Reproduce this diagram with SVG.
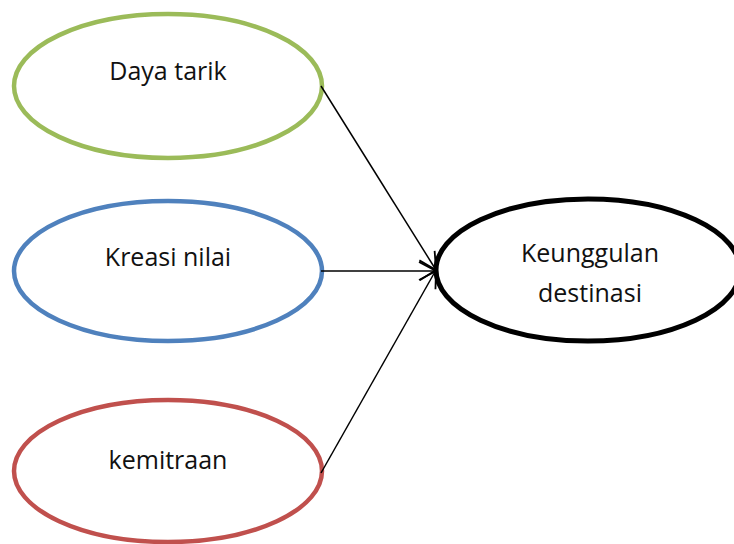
<svg xmlns="http://www.w3.org/2000/svg" width="734" height="544" viewBox="0 0 734 544">
<style>
.node ellipse{fill:#fff}
.lbl{font-family:"Open Sans","Liberation Sans",sans-serif;font-size:25px;fill:#111;text-anchor:middle}
.conn line{stroke:#000;stroke-width:1.5;fill:none}
</style>
<defs>
<marker id="arr" markerUnits="userSpaceOnUse" viewBox="-20 -12 22 24" refX="0" refY="0" markerWidth="22" markerHeight="24" orient="auto">
<path d="M-17,-9 L0,0 L-17,9" fill="none" stroke="#000" stroke-width="1.8"/>
</marker>
</defs>
<rect width="734" height="544" fill="#fff"/>
<g id="node-daya-tarik" class="node">
<ellipse cx="168" cy="86" rx="154" ry="72" stroke="#9bbb59" stroke-width="4.5"/>
<text class="lbl" x="168" y="80">Daya tarik</text>
</g>
<g id="node-kreasi-nilai" class="node">
<ellipse cx="168" cy="271" rx="154" ry="70" stroke="#4f81bd" stroke-width="4.5"/>
<text class="lbl" x="168" y="266">Kreasi nilai</text>
</g>
<g id="node-kemitraan" class="node">
<ellipse cx="168" cy="471" rx="154" ry="71" stroke="#c0504d" stroke-width="4.5"/>
<text class="lbl" x="168" y="469">kemitraan</text>
</g>
<g id="node-keunggulan" class="node">
<ellipse cx="588" cy="270" rx="152" ry="71" stroke="#000" stroke-width="5"/>
<text class="lbl" x="590" y="262">Keunggulan</text>
<text class="lbl" x="590" y="302">destinasi</text>
</g>
<g id="connectors" class="conn">
<line x1="321" y1="86" x2="436" y2="270" marker-end="url(#arr)"/>
<line x1="321" y1="271" x2="436" y2="271" marker-end="url(#arr)"/>
<line x1="321" y1="473" x2="436" y2="270" marker-end="url(#arr)"/>
</g>
</svg>
